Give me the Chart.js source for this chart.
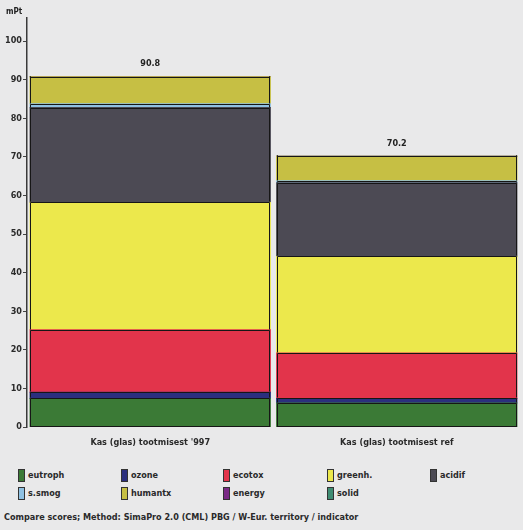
<!DOCTYPE html>
<html>
<head>
<meta charset="utf-8">
<script src="https://cdn.jsdelivr.net/npm/chart.js@4/dist/chart.umd.min.js"></script>
<style>
  html, body { margin: 0; padding: 0; background: #e9e9ea; }
  #wrap { position: relative; width: 523px; height: 530px; overflow: hidden; background: #e9e9ea; }
  #chartBox { position: absolute; left: 0; top: 0; width: 523px; height: 450px; }
  .lg { position: absolute; font: bold 9px "Liberation Sans Narrow", "DejaVu Sans Condensed", "Arial Narrow", sans-serif; color: #2a2a2a; white-space: nowrap; line-height: 12px; }
  .lg i { display: inline-block; width: 5px; height: 11px; border: 1px solid #333; vertical-align: middle; margin-right: 3px; }
  #foot { position: absolute; left: 4px; top: 512px; font: bold 9px "Liberation Sans Narrow", "DejaVu Sans Condensed", "Arial Narrow", sans-serif; color: #2a2a2a; white-space: nowrap; }
</style>
</head>
<body>
<div id="wrap">
  <div id="chartBox"><canvas id="c" width="523" height="450"></canvas></div>
  <div id="legend"></div>
  <div id="foot">Compare scores; Method: SimaPro 2.0 (CML) PBG / W-Eur. territory / indicator</div>
</div>
<script>
// Products compared
const categories = ["Kas (glas) tootmisest '997", "Kas (glas) tootmisest ref"];

// Impact categories, stacked from the bottom up
const impactNames = ["eutroph", "ozone", "ecotox", "greenh.", "acidif", "s.smog", "humantx", "energy", "solid"];
const impactColors = ["#3b7a36", "#2b2f7e", "#e2344b", "#ece84c", "#4c4a54", "#8fc1e2", "#c6bf44", "#7b2a86", "#3f8c72"];

// Scores in mPt per impact category
const eutroph = [7.4, 6.2];
const ozone   = [1.6, 1.2];
const ecotox  = [16.2, 11.8];
const greenh  = [33.0, 25.0];
const acidif  = [24.6, 19.1];
const ssmog   = [1.0, 0.5];
const humantx = [7.0, 6.4];
const energy  = [0, 0];
const solid   = [0, 0];

// Totals printed above each bar
const totals = [90.8, 70.2];

const yTicks = [0, 10, 20, 30, 40, 50, 60, 70, 80, 90, 100];

const series = [eutroph, ozone, ecotox, greenh, acidif, ssmog, humantx, energy, solid];
const FONT = '"Liberation Sans Narrow", "DejaVu Sans Condensed", "Arial Narrow", sans-serif';

const datasets = series.map((vals, i) => ({
  label: impactNames[i],
  data: vals,
  backgroundColor: impactColors[i],
  borderWidth: 0,
  inflateAmount: 0.5,
  barPercentage: 0.975,
  categoryPercentage: 1.0
}));

// Thin dark outline round every stacked segment, taken from the bar elements
const outlinePlugin = {
  id: 'outline',
  afterDatasetsDraw(chart) {
    const ctx = chart.ctx;
    ctx.save();
    ctx.strokeStyle = '#161616';
    ctx.lineWidth = 1;
    chart.data.datasets.forEach((ds, di) => {
      const meta = chart.getDatasetMeta(di);
      meta.data.forEach(bar => {
        const p = bar.getProps(['x', 'y', 'base', 'width'], true);
        const left = Math.round(p.x - p.width / 2) + 0.5;
        const right = Math.round(p.x + p.width / 2) - 0.5;
        const top = Math.round(Math.min(p.y, p.base)) + 0.5;
        const bottom = Math.round(Math.max(p.y, p.base)) - 0.5;
        ctx.beginPath();
        ctx.moveTo(left, top); ctx.lineTo(right, top);
        ctx.moveTo(left, top); ctx.lineTo(left, bottom);
        ctx.moveTo(right, top); ctx.lineTo(right, bottom);
        ctx.stroke();
      });
    });
    // base line of each stack
    const first = chart.getDatasetMeta(0);
    first.data.forEach(bar => {
      const p = bar.getProps(['x', 'base', 'width'], true);
      ctx.beginPath();
      ctx.moveTo(Math.round(p.x - p.width / 2), Math.round(p.base) - 0.5);
      ctx.lineTo(Math.round(p.x + p.width / 2), Math.round(p.base) - 0.5);
      ctx.stroke();
    });
    ctx.restore();
  }
};

// Total above each stack, plus the unit at the top of the axis
const totalsPlugin = {
  id: 'totals',
  afterDatasetsDraw(chart) {
    const ctx = chart.ctx;
    const y = chart.scales.y;
    const topMeta = chart.getDatasetMeta(datasets.length - 1);
    ctx.save();
    ctx.fillStyle = '#222';
    ctx.font = 'bold 9px ' + FONT;
    ctx.textAlign = 'center';
    ctx.textBaseline = 'bottom';
    totals.forEach((t, i) => {
      const bar = topMeta.data[i];
      ctx.fillText(t.toFixed(1), bar.x, y.getPixelForValue(t) - 8);
    });
    ctx.font = 'bold 8px ' + FONT;
    ctx.textAlign = 'left';
    ctx.textBaseline = 'middle';
    ctx.fillText('mPt', 6, 12);
    ctx.restore();
  }
};

new Chart(document.getElementById('c'), {
  type: 'bar',
  data: { labels: categories, datasets },
  options: {
    responsive: false,
    animation: false,
    layout: { padding: { top: 18, right: 3, left: 0, bottom: 0 } },
    plugins: { legend: { display: false }, tooltip: { enabled: false } },
    scales: {
      x: {
        stacked: true,
        grid: { display: false },
        border: { display: false },
        ticks: { color: '#2a2a2a', font: { family: FONT, size: 9, weight: 'bold' }, padding: 2, maxRotation: 0 },
        afterFit(scale) { scale.height = 23; }
      },
      y: {
        stacked: true,
        min: 0,
        max: 106,
        afterBuildTicks(scale) { scale.ticks = yTicks.map(v => ({ value: v })); },
        ticks: { color: '#2a2a2a', font: { family: FONT, size: 9, weight: 'bold' }, padding: 1 },
        grid: { drawOnChartArea: false, drawTicks: true, tickLength: 4, color: '#444' },
        border: { display: true, color: '#3a3a3a', width: 1.5 },
        afterFit(scale) { scale.width = 27; }
      }
    }
  },
  plugins: [outlinePlugin, totalsPlugin]
});

// Legend grid: five columns, two rows
const legendCols = [18, 121, 223, 327, 430];
const legendRows = [469, 487];
const legendBox = document.getElementById('legend');
impactNames.forEach((name, i) => {
  const col = i < 5 ? i : i - 5;
  const row = i < 5 ? 0 : 1;
  const el = document.createElement('div');
  el.className = 'lg';
  el.style.left = legendCols[col] + 'px';
  el.style.top = legendRows[row] + 'px';
  el.innerHTML = '<i style="background:' + impactColors[i] + '"></i>' + name;
  legendBox.appendChild(el);
});
</script>
</body>
</html>
